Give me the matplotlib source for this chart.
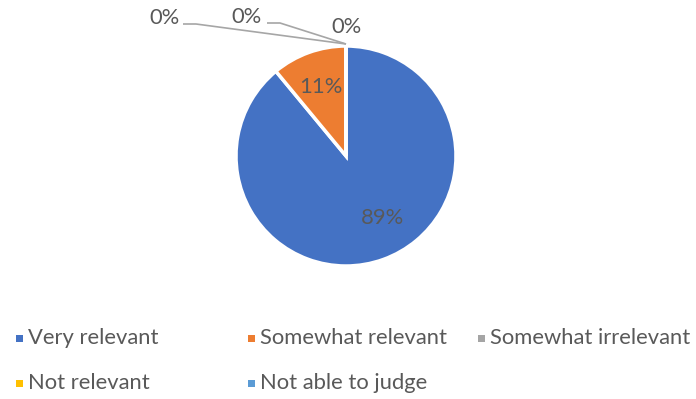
import matplotlib
matplotlib.use("Agg")
import matplotlib.pyplot as plt
from matplotlib.patches import Rectangle

categories = ["Very relevant", "Somewhat relevant", "Somewhat irrelevant",
              "Not relevant", "Not able to judge"]
shares = [89, 11, 0, 0, 0]
colors = ["#4472C4", "#ED7D31", "#A5A5A5", "#FFC000", "#5B9BD5"]

W, H = 696, 399
TXT = "#595959"
FONT = ["Lato", "DejaVu Sans"]
FS = 15.8

fig = plt.figure(figsize=(W / 100, H / 100), dpi=100)
ax = fig.add_axes([0, 0, 1, 1])

cx, cy, r = 346, H - 156, 110
wedges, texts, autotexts = ax.pie(
    shares, colors=colors, center=(cx, cy), radius=r,
    startangle=90, counterclock=False,
    autopct=lambda p: f"{p:.0f}%", pctdistance=0.67,
    wedgeprops=dict(edgecolor="white", linewidth=2.5),
    textprops=dict(color=TXT, fontsize=FS, family=FONT),
    frame=True,
)
ax.axis("off")
ax.set_xlim(0, W)
ax.set_ylim(0, H)
ax.set_aspect("equal")

# nudge the large-slice label
autotexts[0].set_position((383, H - 218))

# zero-valued slices sit at the top of the pie; place their labels above with leaders
tip = (346, H - 44)
zero_pos = [(164, H - 18), (247, H - 17), (346, H - 27)]
leaders = [[(183, H - 24), (196, H - 24)], [(267, H - 23), (280, H - 23)], None]
for t, pos, ld in zip(autotexts[2:], zero_pos, leaders):
    t.set_position(pos)
    if ld is not None:
        xs = [ld[0][0], ld[1][0], tip[0]]
        ys = [ld[0][1], ld[1][1], tip[1]]
        ax.plot(xs, ys, color="#A6A6A6", lw=1.2, solid_capstyle="butt")

# legend laid out in two rows
leg_pos = [(16, 338), (248, 338), (478, 338), (16, 383), (248, 383)]
for name, col, (x, y) in zip(categories, colors, leg_pos):
    ax.add_patch(Rectangle((x, H - y - 4), 7, 7, facecolor=col, edgecolor="none"))
    ax.text(x + 12, H - y, name, color=TXT, fontsize=FS, family=FONT,
            va="center", ha="left")

fig.savefig("out.png", dpi=100)
